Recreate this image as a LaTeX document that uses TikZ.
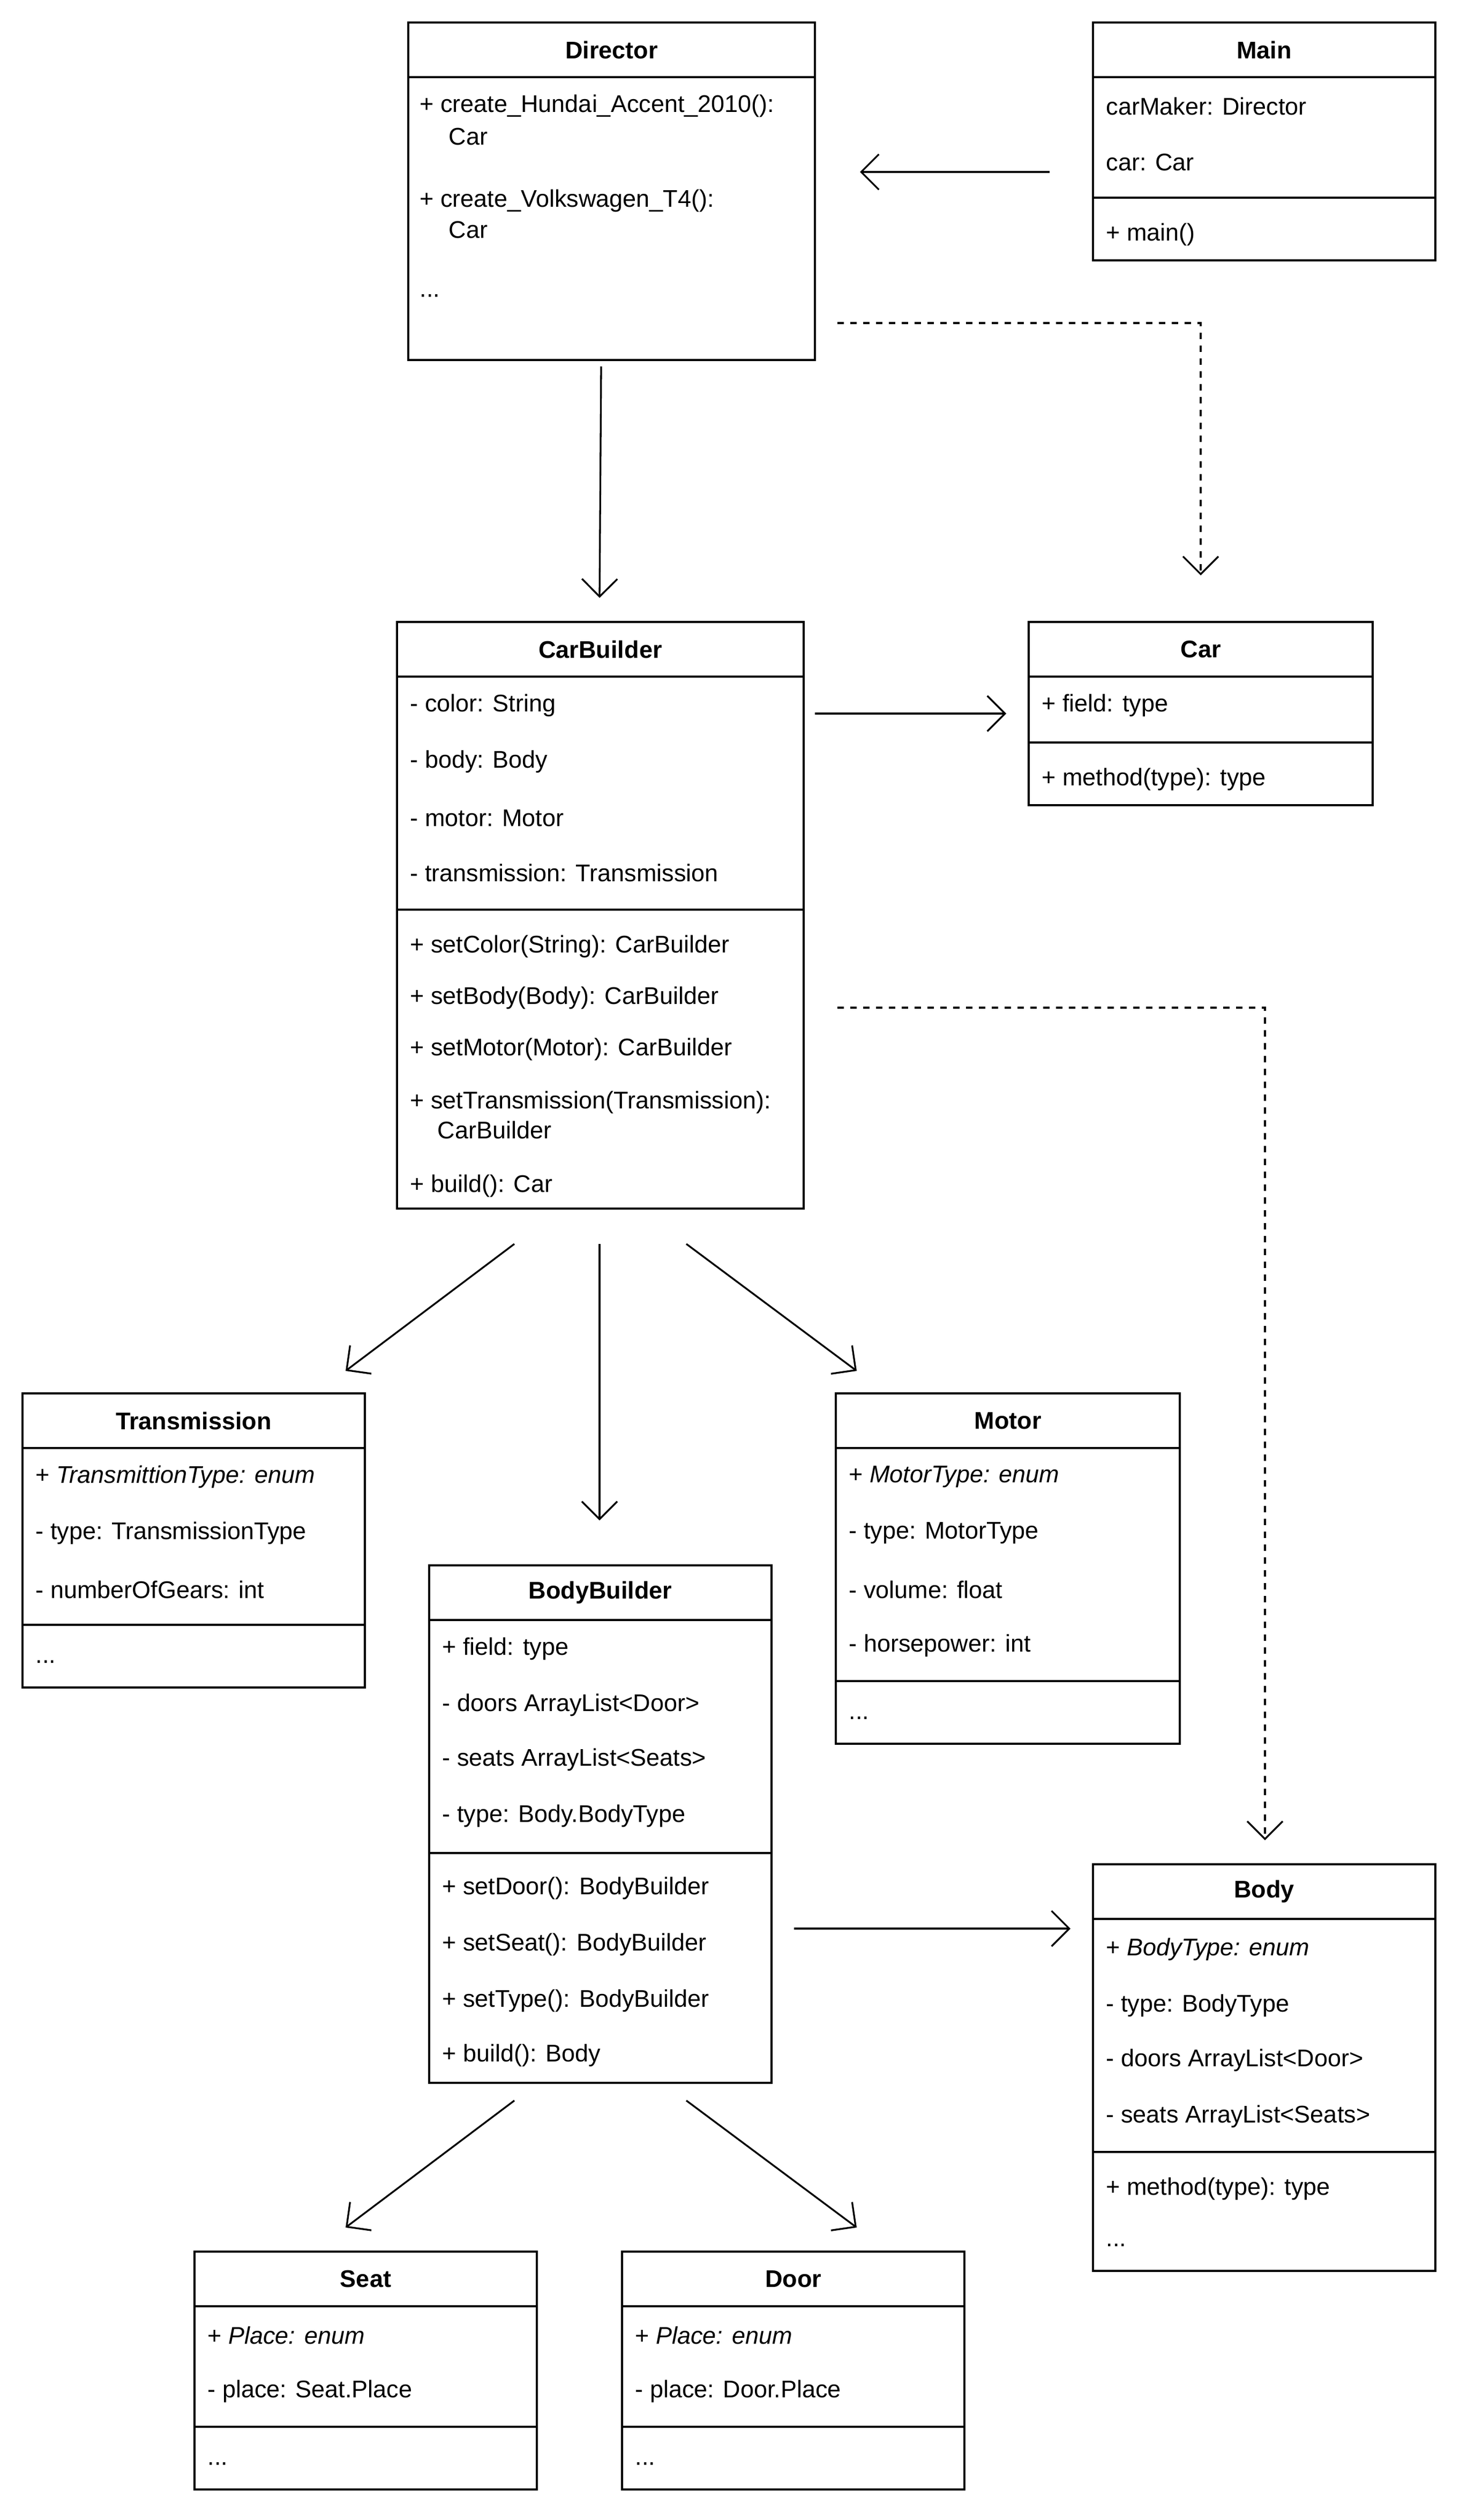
\documentclass[tikz,border=0pt]{standalone}
\usepackage{fontspec}
\setmainfont{Liberation Sans}
\usetikzlibrary{arrows.meta}
\tikzset{
 cls/.style={draw,line width=1.2pt,fill=white},
 fldtext/.style={anchor=west,inner sep=0pt,font=\fontsize{15}{18}\selectfont},
 ttl/.style={inner sep=0pt,font=\fontsize{15}{18}\selectfont\bfseries},
 arr/.style={line width=1.1pt,-{Straight Barb[length=11pt,width=22pt,line width=1.1pt]}},
 dep/.style={arr,dash pattern=on 4pt off 4pt}
}
\newcommand{\umlbox}[7]{%
 \draw[cls] (#2,#3) rectangle (#4,#5);
 \draw[line width=1.2pt] (#2,#6) -- (#4,#6);
 \node[ttl] (#1) at ({(#2+#4)/2},{(#3+#6)/2}) {#7};}
\newcommand{\sepline}[3]{\draw[line width=1.2pt] (#1,#3) -- (#2,#3);}
\newcommand{\fld}[4]{\node[fldtext] (#1) at (#2,#3) {#4};}
\begin{document}
\begin{tikzpicture}[x=1pt,y=-1pt]
\useasboundingbox[fill=white] (0,0) rectangle (908,1568);
% Director
\umlbox{director}{254}{14}{507}{224}{48}{Director}
\fld{d1}{261}{66}{+ create\_Hundai\_Accent\_2010():}
\fld{d2}{279}{85}{Car}
\fld{d3}{261}{125}{+ create\_Volkswagen\_T4():}
\fld{d4}{279}{143}{Car}
\fld{d5}{261}{184}{...}
% Main
\umlbox{main}{680}{14}{893}{162}{48}{Main}
\fld{m1}{688}{66}{carMaker: Director}
\fld{m2}{688}{101}{car: Car}
\sepline{680}{893}{123}
\fld{m3}{688}{146}{+ main()}
% CarBuilder
\umlbox{carbuilder}{247}{387}{500}{752}{421}{CarBuilder}
\fld{c1}{255}{439}{- color: String}
\fld{c2}{255}{474}{- body: Body}
\fld{c3}{255}{509}{- motor: Motor}
\fld{c4}{255}{543}{- transmission: Transmission}
\sepline{247}{500}{566}
\fld{c5}{255}{589}{+ setColor(String): CarBuilder}
\fld{c6}{255}{621}{+ setBody(Body): CarBuilder}
\fld{c7}{255}{653}{+ setMotor(Motor): CarBuilder}
\fld{c8}{255}{686}{+ setTransmission(Transmission):}
\fld{c9}{272}{703}{CarBuilder}
\fld{c10}{255}{738}{+ build(): Car}
% Car
\umlbox{car}{640}{387}{854}{501}{421}{Car}
\fld{a1}{648}{439}{+ field: type}
\sepline{640}{854}{462}
\fld{a2}{648}{485}{+ method(type): type}
% Transmission
\umlbox{transmission}{14}{867}{227}{1050}{901}{Transmission}
\fld{t1}{22}{919}{+ \textit{TransmittionType: enum}}
\fld{t2}{22}{954}{- type: TransmissionType}
\fld{t3}{22}{989}{- numberOfGears: int}
\sepline{14}{227}{1011}
\fld{t4}{22}{1034}{...}
% Motor
\umlbox{motor}{520}{867}{734}{1085}{901}{Motor}
\fld{o1}{528}{919}{+ \textit{MotorType: enum}}
\fld{o2}{528}{954}{- type: MotorType}
\fld{o3}{528}{989}{- volume: float}
\fld{o4}{528}{1024}{- horsepower: int}
\sepline{520}{734}{1046}
\fld{o5}{528}{1069}{...}
% BodyBuilder
\umlbox{bodybuilder}{267}{974}{480}{1296}{1008}{BodyBuilder}
\fld{b1}{275}{1026}{+ field: type}
\fld{b2}{275}{1061}{- doors ArrayList<Door>}
\fld{b3}{275}{1095}{- seats ArrayList<Seats>}
\fld{b4}{275}{1130}{- type: Body.BodyType}
\sepline{267}{480}{1153}
\fld{b5}{275}{1175}{+ setDoor(): BodyBuilder}
\fld{b6}{275}{1210}{+ setSeat(): BodyBuilder}
\fld{b7}{275}{1245}{+ setType(): BodyBuilder}
\fld{b8}{275}{1279}{+ build(): Body}
% Body
\umlbox{body}{680}{1160}{893}{1413}{1194}{Body}
\fld{y1}{688}{1213}{+ \textit{BodyType: enum}}
\fld{y2}{688}{1248}{- type: BodyType}
\fld{y3}{688}{1282}{- doors ArrayList<Door>}
\fld{y4}{688}{1317}{- seats ArrayList<Seats>}
\sepline{680}{893}{1339}
\fld{y5}{688}{1362}{+ method(type): type}
\fld{y6}{688}{1397}{...}
% Seat
\umlbox{seat}{121}{1401}{334}{1549}{1435}{Seat}
\fld{s1}{129}{1453}{+ \textit{Place: enum}}
\fld{s2}{129}{1488}{- place: Seat.Place}
\sepline{121}{334}{1510}
\fld{s3}{129}{1533}{...}
% Door
\umlbox{door}{387}{1401}{600}{1549}{1435}{Door}
\fld{r1}{395}{1453}{+ \textit{Place: enum}}
\fld{r2}{395}{1488}{- place: Door.Place}
\sepline{387}{600}{1510}
\fld{r3}{395}{1533}{...}
% connector ends
\coordinate (p1) at (653,107); \coordinate (q1) at (535,107);
\coordinate (p2) at (521,201); \coordinate (k2) at (747,201); \coordinate (q2) at (747,358);
\coordinate (p3) at (374,228); \coordinate (q3) at (373,372);
\coordinate (p4) at (507,444); \coordinate (q4) at (626,444);
\coordinate (p5) at (521,627); \coordinate (k5) at (787,627); \coordinate (q5) at (787,1145);
\coordinate (p6) at (320,774); \coordinate (q6) at (215,853);
\coordinate (p7) at (373,774); \coordinate (q7) at (373,946);
\coordinate (p8) at (427,774); \coordinate (q8) at (533,853);
\coordinate (p9) at (494,1200); \coordinate (q9) at (666,1200);
\coordinate (p10) at (320,1307); \coordinate (q10) at (215,1386);
\coordinate (p11) at (427,1307); \coordinate (q11) at (533,1386);
\draw[arr] (p1) -- (q1);
\draw[dep] (p2) -- (k2) -- (q2);
\draw[arr] (p3) -- (q3);
\draw[arr] (p4) -- (q4);
\draw[dep] (p5) -- (k5) -- (q5);
\draw[arr] (p6) -- (q6);
\draw[arr] (p7) -- (q7);
\draw[arr] (p8) -- (q8);
\draw[arr] (p9) -- (q9);
\draw[arr] (p10) -- (q10);
\draw[arr] (p11) -- (q11);
\end{tikzpicture}
\end{document}
